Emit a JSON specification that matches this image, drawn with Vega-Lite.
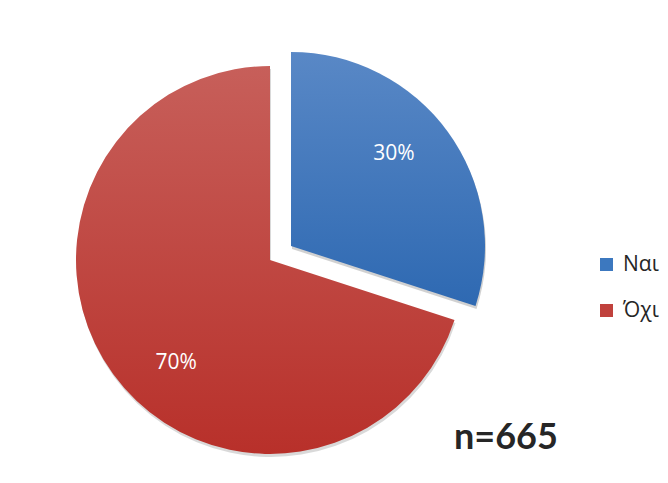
{
  "$schema": "https://vega.github.io/schema/vega-lite/v6.json",
  "width": 388,
  "height": 388,
  "autosize": {"type": "none"},
  "padding": {"left": 76, "top": 66, "right": 204, "bottom": 29},
  "background": "white",
  "config": {"view": {"stroke": null}},
  "data": {"values": [
    {"answer": "Ναι", "share": 0.30, "idx": 1},
    {"answer": "Όχι", "share": 0.70, "idx": 2}
  ]},
  "title": {"text": "n=665", "orient": "bottom", "anchor": "start", "frame": "group", "dx": 378, "dy": -8, "offset": 0, "baseline": "alphabetic", "font": "Lato", "fontSize": 36, "fontWeight": "bold", "color": "#262626"},
  "encoding": {
    "theta": {"field": "share", "type": "quantitative", "stack": true},
    "order": {"field": "idx", "type": "quantitative"}
  },
  "layer": [
    {
      "mark": {"type": "arc", "outerRadius": 0, "innerRadius": 0},
      "encoding": {
        "color": {"field": "answer", "type": "nominal",
          "scale": {"domain": ["Ναι", "Όχι"], "range": ["#3C78BF", "#C0413C"]},
          "legend": {"title": null, "orient": "none", "legendX": 520, "legendY": 188, "symbolType": "square", "symbolSize": 169, "labelFont": "Open Sans", "labelFontSize": 21, "labelColor": "#262626", "rowPadding": 24, "labelOffset": 6, "padding": 0, "symbolStrokeWidth": 0}}
      }
    },
    {
      "mark": {"type": "arc", "outerRadius": 194, "xOffset": 1, "yOffset": 3, "fill": "#000000"},
      "encoding": {"fillOpacity": {"condition": {"test": "datum.answer === 'Όχι'", "value": 0.15}, "value": 0}}
    },
    {
      "mark": {"type": "arc", "outerRadius": 194, "fill": {"gradient": "linear", "x1": 0, "y1": 0, "x2": 0, "y2": 1, "stops": [{"offset": 0, "color": "#C75F5A"}, {"offset": 1, "color": "#B8302A"}]}},
      "encoding": {"fillOpacity": {"condition": {"test": "datum.answer === 'Όχι'", "value": 1}, "value": 0}}
    },
    {
      "mark": {"type": "arc", "outerRadius": 194, "xOffset": 22, "yOffset": -11, "fill": "#000000"},
      "encoding": {"fillOpacity": {"condition": {"test": "datum.answer === 'Ναι'", "value": 0.18}, "value": 0}}
    },
    {
      "mark": {"type": "arc", "outerRadius": 194, "xOffset": 21, "yOffset": -14, "fill": {"gradient": "linear", "x1": 0, "y1": 0, "x2": 0, "y2": 1, "stops": [{"offset": 0, "color": "#5988C6"}, {"offset": 1, "color": "#2E69B2"}]}},
      "encoding": {"fillOpacity": {"condition": {"test": "datum.answer === 'Ναι'", "value": 1}, "value": 0}}
    },
    {
      "mark": {"type": "text", "radius": 137, "dx": 13, "dy": -25, "font": "Open Sans", "fontSize": 21, "fill": "white"},
      "encoding": {
        "text": {"field": "share", "type": "quantitative", "format": ".0%"},
        "opacity": {"condition": {"test": "datum.answer === 'Ναι'", "value": 1}, "value": 0}
      }
    },
    {
      "mark": {"type": "text", "radius": 137, "dx": 17, "dy": 22, "font": "Open Sans", "fontSize": 21, "fill": "white"},
      "encoding": {
        "text": {"field": "share", "type": "quantitative", "format": ".0%"},
        "opacity": {"condition": {"test": "datum.answer === 'Όχι'", "value": 1}, "value": 0}
      }
    }
  ]
}
